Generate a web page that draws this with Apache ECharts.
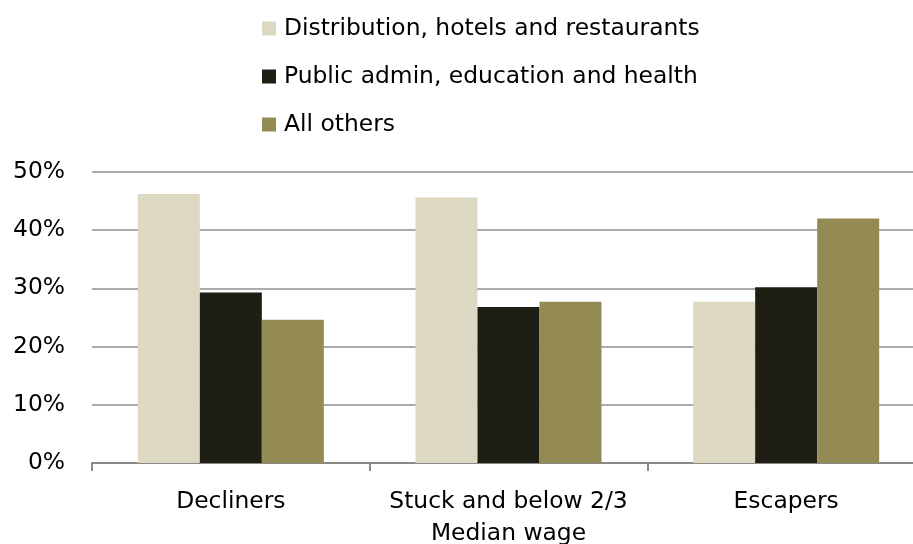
<!DOCTYPE html>
<html><head><meta charset="utf-8">
<script src="https://cdn.jsdelivr.net/npm/echarts@6/dist/echarts.min.js"></script>
<style>html,body{margin:0;padding:0;background:#fff}#c{width:913px;height:544px}</style>
</head><body><div id="c"></div>
<script>
const categories = ['Decliners', 'Stuck and below 2/3\nMedian wage', 'Escapers'];
const seriesNames = ['Distribution, hotels and restaurants', 'Public admin, education and health', 'All others'];
const distribution = [46.2, 45.6, 27.7];
const publicAdmin = [29.3, 26.8, 30.2];
const allOthers = [24.6, 27.7, 42.0];
const colors = ['#DDD8C2', '#1F1E14', '#948A54'];
const font = "'DejaVu Sans', sans-serif";
const chart = echarts.init(document.getElementById('c'), null, {renderer: 'canvas'});
const dataSets = [distribution, publicAdmin, allOthers];
chart.setOption({
  animation: false,
  color: colors,
  textStyle: {fontFamily: font},
  legend: {
    orient: 'vertical', left: 262, top: 17, itemGap: 25, padding: 0,
    itemWidth: 14, itemHeight: 14, icon: 'rect',
    textStyle: {fontFamily: font, fontSize: 23.4, color: '#000', padding: [0, 0, 0, 3]},
    data: seriesNames
  },
  grid: {left: 92, right: -12, top: 172, bottom: 81, containLabel: false, outerBoundsMode: 'none'},
  xAxis: {
    type: 'category', data: categories,
    axisLine: {lineStyle: {color: '#898989', width: 2}},
    axisTick: {show: true, length: 8, lineStyle: {color: '#898989', width: 2}},
    axisLabel: {interval: 0, fontFamily: font, fontSize: 23.4, color: '#000', margin: 23, lineHeight: 32}
  },
  yAxis: {
    type: 'value', min: 0, max: 50, interval: 10,
    axisLine: {show: false}, axisTick: {show: false},
    splitLine: {lineStyle: {color: '#ABABAB', width: 2}},
    axisLabel: {fontFamily: font, fontSize: 23.4, color: '#000', margin: 27, formatter: '{value}%'}
  },
  series: seriesNames.map((n, i) => ({
    name: n, type: 'bar', data: dataSets[i],
    barGap: '0%', barCategoryGap: '33%'
  }))
});
</script></body></html>
